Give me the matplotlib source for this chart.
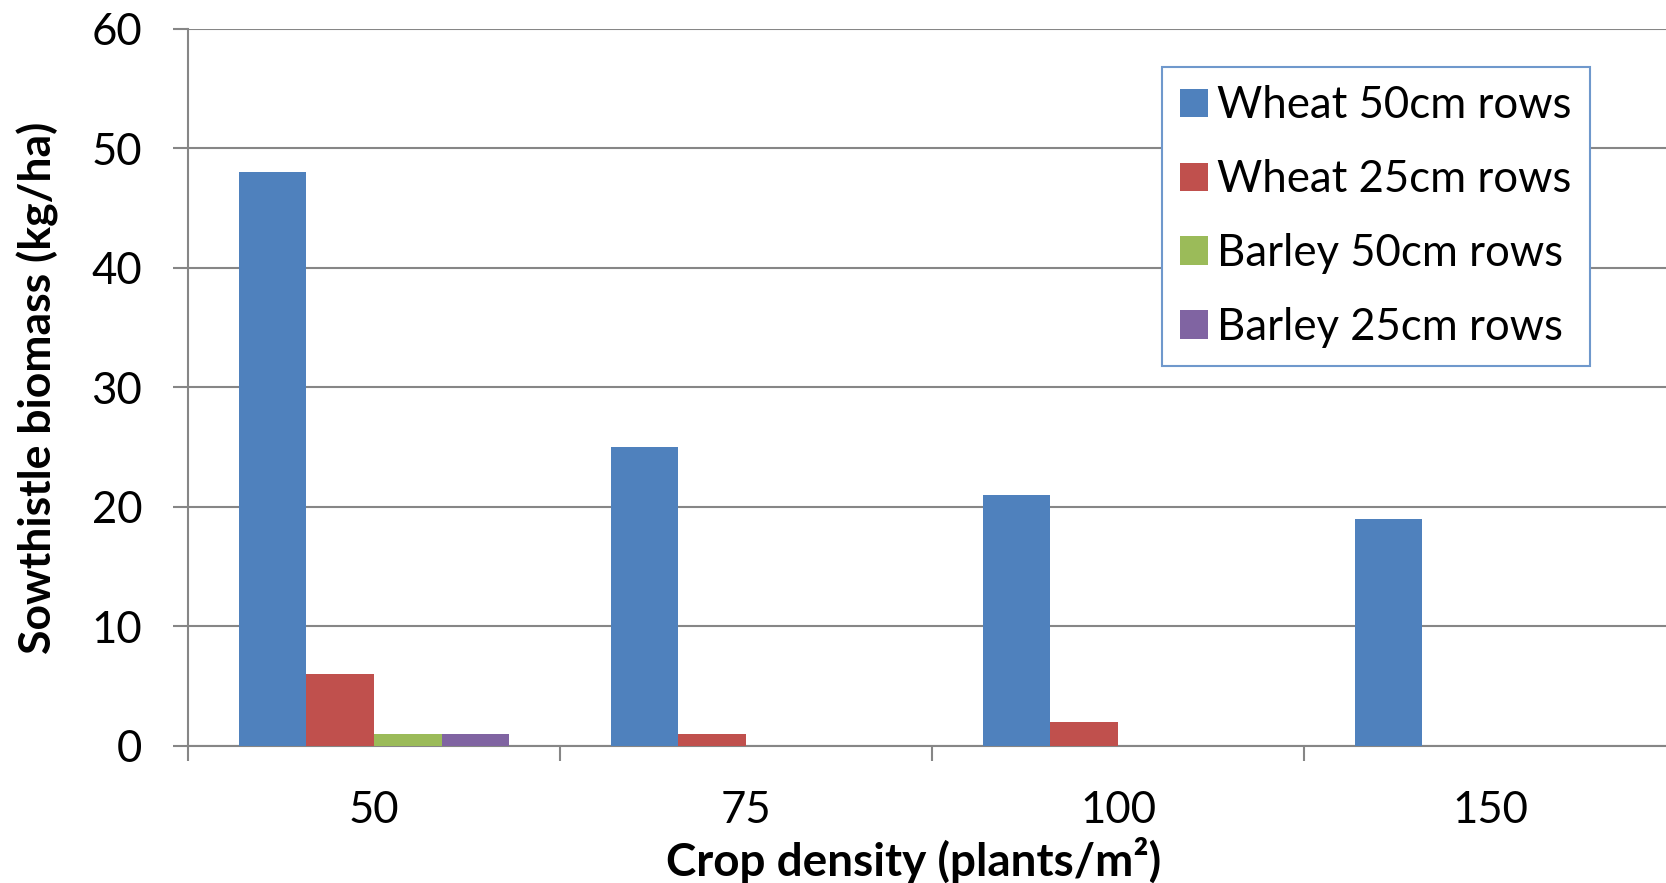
import matplotlib.pyplot as plt
import numpy as np

# data
densities = ['50', '75', '100', '150']
series = ['Wheat 50cm rows', 'Wheat 25cm rows', 'Barley 50cm rows', 'Barley 25cm rows']
wheat_50 = [48, 25, 21, 19]
wheat_25 = [6, 1, 2, 0]
barley_50 = [1, 0, 0, 0]
barley_25 = [1, 0, 0, 0]
colors = ['#4F81BD', '#C0504D', '#9BBB59', '#8064A2']

plt.rcParams['font.family'] = ['Lato', 'DejaVu Sans']

W, H = 1666, 883
fig = plt.figure(figsize=(W / 100, H / 100), dpi=100)
# plot area runs a bit past the right edge, as in the (cropped) original
ax = fig.add_axes([188 / W, (H - 746) / H, (1676 - 188) / W, (746 - 28.5) / H])

x = np.arange(len(densities))
bw = 1 / 5.5  # excel gap width 150%
values = [wheat_50, wheat_25, barley_50, barley_25]
for i, (name, vals) in enumerate(zip(series, values)):
    ax.bar(x + (i - 1.5) * bw, vals, width=bw, color=colors[i], label=name, zorder=3)

grey = '#868686'
fs = 31.5
ax.set_xlim(-0.5, len(densities) - 0.5)
ax.set_ylim(0, 60)
ax.set_yticks(range(0, 61, 10))
ax.yaxis.grid(True, color=grey, lw=1.5, zorder=0)
ax.set_axisbelow(True)
for s in ['top', 'right']:
    ax.spines[s].set_visible(False)
for s in ['left', 'bottom']:
    ax.spines[s].set_color(grey)
    ax.spines[s].set_linewidth(1.5)

ax.set_xticks(x)
ax.set_xticklabels(densities)
ax.set_xticks(np.arange(-0.5, len(densities), 1), minor=True)
ax.tick_params(axis='x', which='major', length=0, pad=32, labelsize=fs)
ax.tick_params(axis='x', which='minor', length=11, width=1.5, color=grey, direction='out')
ax.tick_params(axis='y', length=11, width=1.5, color=grey, direction='out', pad=22, labelsize=fs)

fig.text(38 / W, 1 - 388 / H, 'Sowthistle biomass (kg/ha)', rotation=90, ha='center', va='center',
         fontsize=32, fontweight='bold')
fig.text(914 / W, 1 - 860 / H, 'Crop density (plants/m²)', ha='center', va='center',
         fontsize=33, fontweight='bold')

leg = ax.legend(loc='upper left', bbox_to_anchor=(1162 / W, 1 - 67 / H), bbox_transform=fig.transFigure,
                fontsize=fs, frameon=True, fancybox=False, framealpha=1, edgecolor='#6F98CC',
                handlelength=0.62, handleheight=0.62, handletextpad=0.22, labelspacing=0.75,
                borderpad=0.42, borderaxespad=0)
leg.get_frame().set_linewidth(1.5)

fig.savefig('out.png', dpi=100)
